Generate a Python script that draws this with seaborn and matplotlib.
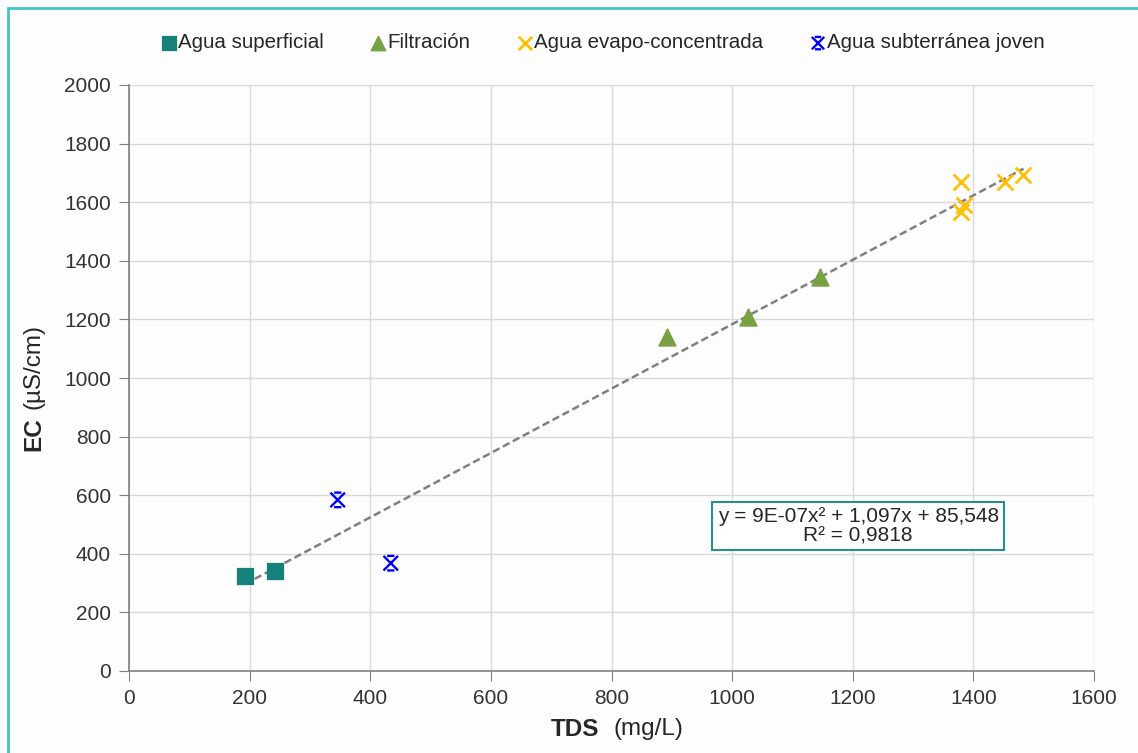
import matplotlib.pyplot as plt
import matplotlib.patches as mpatches
from matplotlib.path import Path
import numpy as np
import seaborn as sns

# Data
sup_tds = [192, 242]
sup_ec = [324, 341]

fil_tds = [892, 1026, 1146]
fil_ec = [1140, 1208, 1345]

evap_tds = [1380, 1385, 1380, 1453, 1483]
evap_ec = [1669, 1590, 1567, 1669, 1693]

sub_tds = [346, 434]
sub_ec = [584, 368]

# quadratic trend coefficients shown in the chart
coef = [9e-07, 1.097, 85.548]

sns.set_style('white')
plt.rcParams['font.family'] = ['Liberation Sans', 'DejaVu Sans']

# asterisk-like marker (X with top and bottom bars)
star_verts = [(-1, -1), (1, 1), (-1, 1), (1, -1), (-0.5, 1), (0.5, 1), (-0.5, -1), (0.5, -1)]
star_codes = [Path.MOVETO, Path.LINETO] * 4
star = Path(star_verts, star_codes)

fig = plt.figure(figsize=(11.38, 7.53), dpi=100, facecolor='#fdfdfd')
ax = fig.add_axes([129 / 1138, 1 - 671 / 753, (1094 - 129) / 1138, (671 - 85) / 753])
ax.set_facecolor('#fdfdfd')

# trend line
all_tds = sup_tds + fil_tds + evap_tds + sub_tds
xs = np.linspace(min(all_tds), max(all_tds), 100)
ys = np.polyval(coef, xs)
ax.plot(xs, ys, color='#808080', lw=1.8, ls=(0, (3, 1.5)), zorder=2)

sns.scatterplot(x=sup_tds, y=sup_ec, marker='s', s=130, color='#16807a', edgecolor='#16807a',
                ax=ax, label='Agua superficial', zorder=3)
sns.scatterplot(x=fil_tds, y=fil_ec, marker='^', s=150, color='#77a142', edgecolor='#77a142',
                ax=ax, label='Filtración', zorder=3)
sns.scatterplot(x=evap_tds, y=evap_ec, marker='x', s=130, color='#ffc000', linewidth=2,
                ax=ax, label='Agua evapo-concentrada', zorder=3)
sns.scatterplot(x=sub_tds, y=sub_ec, marker=star, s=110, color='#0000ff', edgecolor='#0000ff',
                linewidth=1.7, ax=ax, label='Agua subterránea joven', zorder=3)
ax.collections[-1].set_facecolor('none')

ax.set_xlim(0, 1600)
ax.set_ylim(0, 2000)
ax.set_xticks(range(0, 1601, 200))
ax.set_yticks(range(0, 2001, 200))
ax.grid(True, color='#d9d9d9', lw=1)
ax.tick_params(axis='both', labelsize=15, colors='#333333', length=7, direction='out',
               bottom=True, left=True, pad=6)
ax.tick_params(axis='both', color='#808080')
for side in ['top', 'right']:
    ax.spines[side].set_visible(False)
for side in ['left', 'bottom']:
    ax.spines[side].set_color('#808080')
    ax.spines[side].set_linewidth(1.2)
ax.set_axisbelow(True)

# axis titles (bold abbreviation + units)
fig.text(575 / 1138, 1 - 729 / 753, 'TDS', fontsize=17.5, fontweight='bold', ha='center', va='center')
fig.text(613 / 1138, 1 - 729 / 753, '(mg/L)', fontsize=17.5, ha='left', va='center')
fig.text(34 / 1138, 1 - 434 / 753, 'EC', fontsize=17.5, fontweight='bold', rotation=90,
         ha='center', va='center')
fig.text(34 / 1138, 1 - 409 / 753, '(µS/cm)', fontsize=17.5, rotation=90, ha='center', va='bottom')

# equation box
ax.text(1209, 494, 'y = 9E-07x² + 1,097x + 85,548\nR² = 0,9818', fontsize=15,
        ha='center', va='center', multialignment='center', linespacing=1.0,
        bbox=dict(boxstyle='square,pad=0.25', fc='white', ec='#2a8f8a', lw=1.5))

leg = ax.legend(loc='center left', bbox_to_anchor=(151 / 1138, 1 - 43 / 753),
                bbox_transform=fig.transFigure, ncol=4, frameon=False, fontsize=14.8,
                handletextpad=0.05, handlelength=0.75, columnspacing=2.3, borderpad=0,
                markerscale=0.85)
leg.legend_handles[-1].set_facecolor('none')

# outer teal border
fig.patches.append(mpatches.Rectangle((8 / 1138, -0.1), 1.2, 1 - 8 / 753 + 0.1,
                                      transform=fig.transFigure, fill=False,
                                      ec='#40c4c4', lw=2))

fig.savefig('out.png', dpi=100, facecolor=fig.get_facecolor())
